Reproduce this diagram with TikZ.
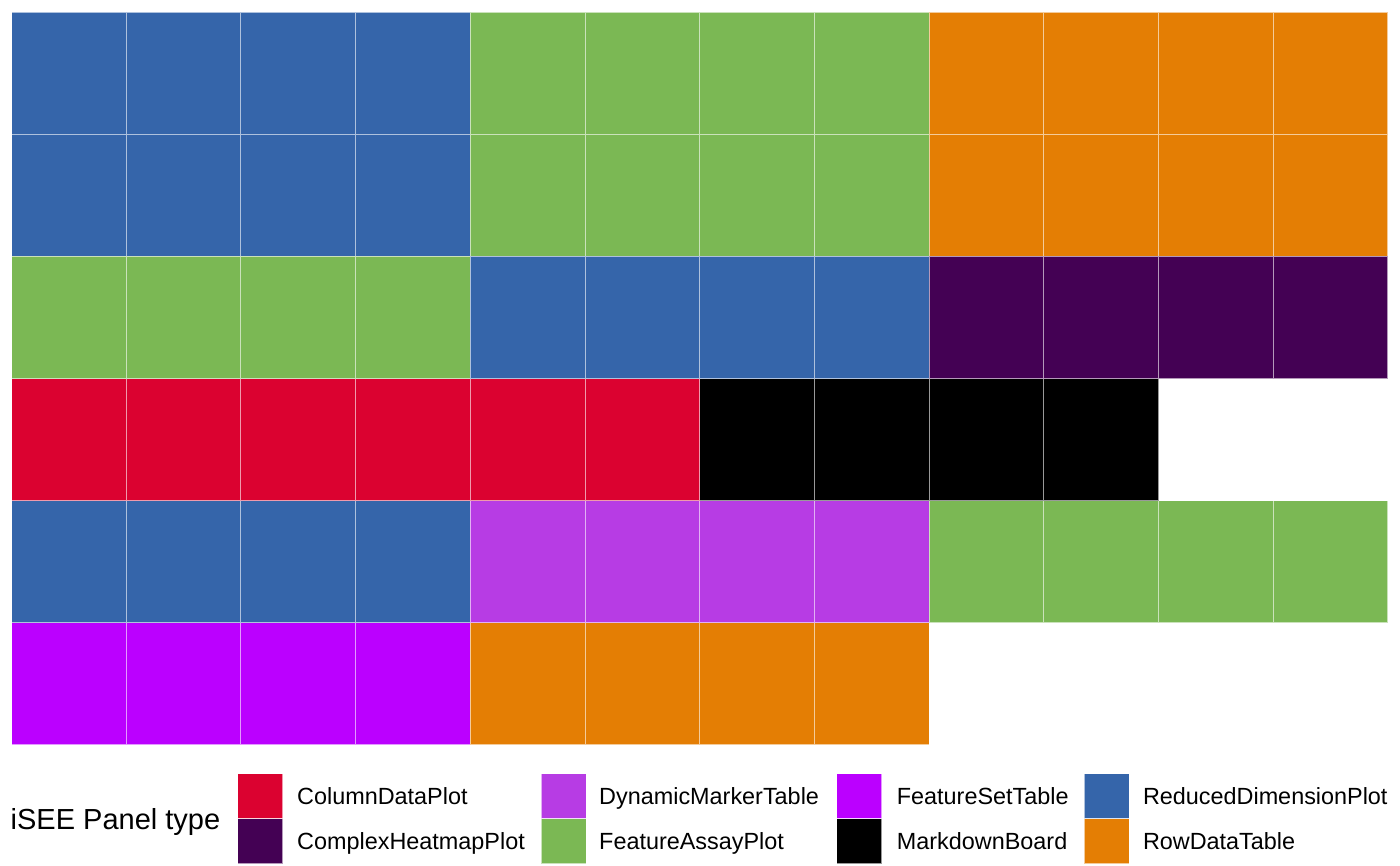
\documentclass[tikz,border=0pt]{standalone}
\usepackage{fontspec}
\setmainfont{Liberation Sans}
\usetikzlibrary{positioning}
\definecolor{cdp}{HTML}{DB0230}
\definecolor{chp}{HTML}{440154}
\definecolor{dmt}{HTML}{B73CE4}
\definecolor{fap}{HTML}{7BB854}
\definecolor{fst}{HTML}{BB00FF}
\definecolor{mdb}{HTML}{000000}
\definecolor{rdp}{HTML}{3565AA}
\definecolor{rdt}{HTML}{E47E04}

\begin{document}
\begin{tikzpicture}[x=1pt,y=1pt,
	tile/.style={draw=white,draw opacity=0.6,line width=1pt},
	key/.style={tile,minimum size=45pt,inner sep=0pt,outer sep=0pt},
	lab/.style={font=\fontsize{23.4}{28}\selectfont,text height=16.8pt,text depth=0pt,inner sep=0pt}]
		\useasboundingbox (0,0) rectangle (1400,865);
		% waffle, one unit = one tile
		\begin{scope}[shift={(11.5pt,120.2pt)},x=114.7pt,y=122.08pt]
			\foreach \c/\xa/\ya/\xb/\yb in {rdp/0/4/4/6,fap/4/4/8/6,rdt/8/4/12/6,
				fap/0/3/4/4,rdp/4/3/8/4,chp/8/3/12/4,
				cdp/0/2/6/3,mdb/6/2/10/3,
				rdp/0/1/4/2,dmt/4/1/8/2,fap/8/1/12/2,
				fst/0/0/4/1,rdt/4/0/8/1}
				\fill[\c] (\xa,\ya) rectangle (\xb,\yb);
			\draw[tile,xstep=114.7pt,ystep=122.08pt] (0,0) grid (12,6);
		\end{scope}
		% legend
		\node[font=\fontsize{29}{34}\selectfont,text height=20.8pt,text depth=0pt,inner sep=0pt,anchor=west] (title) at (10.5,46) {iSEE Panel type};
		\node[key,fill=cdp] (kcdp) at (260,69) {};
		\node[key,fill=chp,below=0pt of kcdp] (kchp) {};
		\node[key,fill=dmt] (kdmt) at (563.5,69) {};
		\node[key,fill=fap,below=0pt of kdmt] (kfap) {};
		\node[key,fill=fst] (kfst) at (859.2,69) {};
		\node[key,fill=mdb,below=0pt of kfst] (kmdb) {};
		\node[key,fill=rdp] (krdp) at (1106.8,69) {};
		\node[key,fill=rdt,below=0pt of krdp] (krdt) {};
		\node[lab,right=14.5pt of kcdp] (lcdp) {ColumnDataPlot};
		\node[lab,right=14.5pt of kchp] (lchp) {ComplexHeatmapPlot};
		\node[lab,right=13pt of kdmt] (ldmt) {DynamicMarkerTable};
		\node[lab,right=13pt of kfap] (lfap) {FeatureAssayPlot};
		\node[lab,right=15pt of kfst] (lfst) {FeatureSetTable};
		\node[lab,right=15pt of kmdb] (lmdb) {MarkdownBoard};
		\node[lab,right=13.5pt of krdp] (lrdp) {ReducedDimensionPlot};
		\node[lab,right=13.5pt of krdt] (lrdt) {RowDataTable};
	\end{tikzpicture}
\end{document}
